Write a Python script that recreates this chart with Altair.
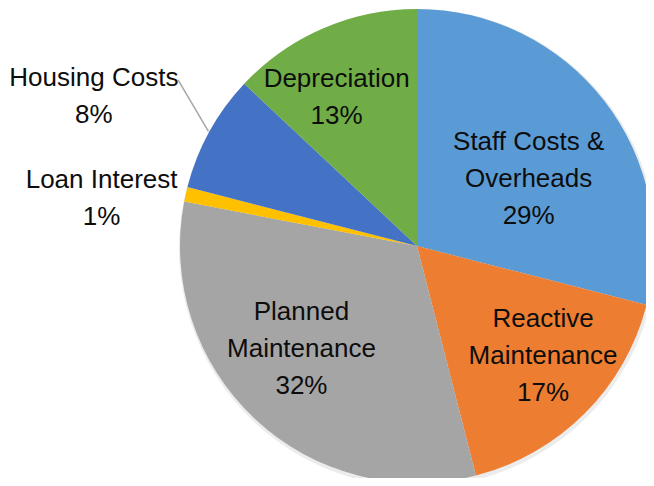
import math
import altair as alt
import pandas as pd

categories = ["Staff Costs & Overheads", "Reactive Maintenance", "Planned Maintenance",
              "Loan Interest", "Housing Costs", "Depreciation"]
label_lines = [["Staff Costs &", "Overheads"], ["Reactive", "Maintenance"],
               ["Planned", "Maintenance"], ["Loan Interest"], ["Housing Costs"], ["Depreciation"]]
values = [29, 17, 32, 1, 8, 13]
colors = ["#5B9BD5", "#ED7D31", "#A5A5A5", "#FFC000", "#4472C4", "#70AD47"]

# layout (plot-area pixels)
CX, CY, R = 409, 238, 237
LINE_H = 37
# label placement: (radius, angle offset in degrees from slice middle)
label_layout = [(130, 7), (167, -4), (155, 5), (319, -4), (356, -4), (169, -5)]

total = sum(values)
rows, lab_rows = [], []
cum = 0
for i, (c, v) in enumerate(zip(categories, values)):
    mid = (cum + v / 2) / total * 360
    cum += v
    rows.append({"cat": c, "value": v, "idx": i})
    r, off = label_layout[i]
    a = math.radians(mid + off)
    lines = label_lines[i] + [f"{round(v / total * 100)}%"]
    lab_rows.append({
        "cat": c,
        "text": lines,
        "px": CX + r * math.sin(a),
        "py": CY - r * math.cos(a) - (len(lines) - 1) * LINE_H / 2,
    })
df = pd.DataFrame(rows)
ldf = pd.DataFrame(lab_rows)

# leader line for Housing Costs
hi = categories.index("Housing Costs")
hmid = math.radians((sum(values[:hi]) + values[hi] / 2) / total * 360)
hend = hmid + math.radians(6)
leader = pd.DataFrame([{
    "x1": CX + (R + 1) * math.sin(hmid), "y1": CY - (R + 1) * math.cos(hmid),
    "x2": CX + 291 * math.sin(hend), "y2": CY - 291 * math.cos(hend),
}])

color_scale = alt.Scale(domain=categories, range=colors)

shadow = alt.Chart(df).mark_arc(outerRadius=R + 2, color="#d9d9d9", opacity=0.5).encode(
    theta=alt.Theta("value:Q", stack=True),
    order=alt.Order("idx:Q"),
    x=alt.value(CX + 1), y=alt.value(CY + 2),
)

pie = alt.Chart(df).mark_arc(outerRadius=R).encode(
    theta=alt.Theta("value:Q", stack=True),
    color=alt.Color("cat:N", scale=color_scale, sort=None, legend=None),
    order=alt.Order("idx:Q"),
    x=alt.value(CX), y=alt.value(CY),
)

labels = alt.Chart(ldf).mark_text(
    font="Liberation Sans", fontSize=26, lineHeight=LINE_H, color="#0d0d0d",
    align="center", baseline="middle",
).encode(
    x=alt.X("px:Q", scale=None, axis=None),
    y=alt.Y("py:Q", scale=None, axis=None),
    text="text",
)

line = alt.Chart(leader).mark_rule(color="#a6a6a6", strokeWidth=1.5).encode(
    x=alt.X("x1:Q", scale=None, axis=None), y=alt.Y("y1:Q", scale=None, axis=None),
    x2="x2:Q", y2="y2:Q",
)

chart = alt.layer(shadow, pie, line, labels).properties(
    width=638, height=470,
    autosize=alt.AutoSizeParams(type="none"),
    padding=0,
).configure_view(stroke=None)

chart.save("out.html", embed_options={"renderer": "svg", "actions": False})
